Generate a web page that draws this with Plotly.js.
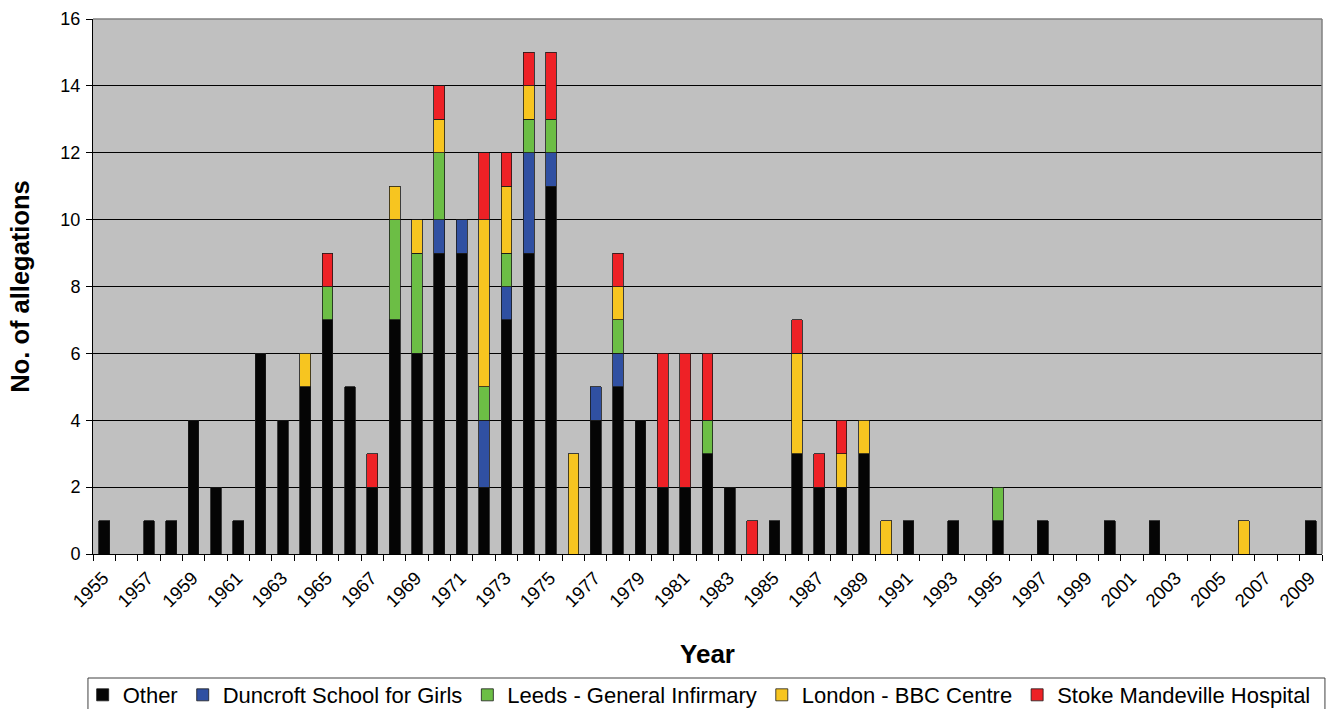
<!DOCTYPE html>
<html>
<head>
<meta charset="utf-8">
<script src="https://cdn.plot.ly/plotly-3.0.1.min.js"></script>
<style>
html,body{margin:0;padding:0;background:#ffffff;}
#chart{width:1329px;height:709px;}
</style>
</head>
<body>
<div id="chart"></div>
<script>
// Categories (years)
const years = [1955,1956,1957,1958,1959,1960,1961,1962,1963,1964,
               1965,1966,1967,1968,1969,1970,1971,1972,1973,1974,
               1975,1976,1977,1978,1979,1980,1981,1982,1983,1984,
               1985,1986,1987,1988,1989,1990,1991,1992,1993,1994,
               1995,1996,1997,1998,1999,2000,2001,2002,2003,2004,
               2005,2006,2007,2008,2009];

// Series values (allegations per year)
const other    = [1,0,1,1,4,2,1,6,4,5, 7,5,2,7,6,9,9,2,7,9, 11,0,4,5,4,2,2,3,2,0, 1,3,2,2,3,0,1,0,1,0, 1,0,1,0,0,1,0,1,0,0, 0,0,0,0,1];
const duncroft = [0,0,0,0,0,0,0,0,0,0, 0,0,0,0,0,1,1,2,1,3, 1,0,1,1,0,0,0,0,0,0, 0,0,0,0,0,0,0,0,0,0, 0,0,0,0,0,0,0,0,0,0, 0,0,0,0,0];
const leeds    = [0,0,0,0,0,0,0,0,0,0, 1,0,0,3,3,2,0,1,1,1, 1,0,0,1,0,0,0,1,0,0, 0,0,0,0,0,0,0,0,0,0, 1,0,0,0,0,0,0,0,0,0, 0,0,0,0,0];
const london   = [0,0,0,0,0,0,0,0,0,1, 0,0,0,1,1,1,0,5,2,1, 0,3,0,1,0,0,0,0,0,0, 0,3,0,1,1,1,0,0,0,0, 0,0,0,0,0,0,0,0,0,0, 0,1,0,0,0];
const stoke    = [0,0,0,0,0,0,0,0,0,0, 1,0,1,0,0,1,0,2,1,1, 2,0,0,1,0,4,4,2,0,1, 0,1,1,1,0,0,0,0,0,0, 0,0,0,0,0,0,0,0,0,0, 0,0,0,0,0];

// Tick labels (every other year)
const tickYears = [1955,1957,1959,1961,1963,1965,1967,1969,1971,1973,1975,1977,1979,1981,
                   1983,1985,1987,1989,1991,1993,1995,1997,1999,2001,2003,2005,2007,2009];
const tickLabels = tickYears.map(String);

const seriesNames  = ['Other','Duncroft School for Girls','Leeds - General Infirmary','London - BBC Centre','Stoke Mandeville Hospital'];
const seriesValues = [other, duncroft, leeds, london, stoke];
const seriesColors = ['#050505','#3050A2','#6CBE45','#F7C520','#EE2126'];

const FONT = 'Liberation Sans, Arial, Helvetica, sans-serif';

const traces = seriesNames.map((name, i) => ({
  type: 'bar',
  name: name,
  x: years,
  y: seriesValues[i].map(v => v === 0 ? null : v),
  marker: {color: seriesColors[i], line: {color: '#1a1a1a', width: 0.8}},
  hoverinfo: 'x+y+name'
}));

const layout = {
  width: 1329, height: 709,
  margin: {l: 93, r: 7, t: 19, b: 155, autoexpand: false},
  paper_bgcolor: '#ffffff',
  plot_bgcolor: '#C0C0C0',
  barmode: 'stack',
  bargap: 0.52,
  font: {family: FONT, color: '#000000'},
  showlegend: true,
  legend: {
    orientation: 'h', traceorder: 'normal',
    x: -0.0084, xanchor: 'left',
    y: -0.2636, yanchor: 'middle',
    font: {family: FONT, size: 22, color: '#000'},
    bgcolor: 'rgba(0,0,0,0)', borderwidth: 0
  },
  xaxis: {
    type: 'linear',
    range: [1954.5, 2009.5],
    tickmode: 'array',
    tickvals: tickYears,
    ticktext: tickLabels,
    ticks: '',
    tickangle: -45,
    ticklabelstandoff: 5,
    ticklabelshift: -1,
    tickfont: {family: FONT, size: 18.5, color: '#000'},
    showgrid: false, zeroline: false,
    showline: true, linecolor: '#000', linewidth: 1,
    minor: {tickmode: 'linear', tick0: 1954.5, dtick: 1, ticks: 'outside', ticklen: 6, tickcolor: '#000', tickwidth: 1, showgrid: false},
    title: {text: 'Year', font: {family: FONT, size: 26, color: '#000', weight: 'bold'}, standoff: 34},
    fixedrange: true
  },
  yaxis: {
    range: [0, 16],
    tickmode: 'linear', tick0: 0, dtick: 2,
    ticks: 'outside', ticklen: 6, tickcolor: '#000', tickwidth: 1,
    ticklabelstandoff: 2,
    tickfont: {family: FONT, size: 18, color: '#000'},
    showgrid: true, gridcolor: '#000000', gridwidth: 1,
    zeroline: false,
    showline: true, linecolor: '#000', linewidth: 1,
    title: {text: 'No. of allegations', font: {family: FONT, size: 25.5, color: '#000', weight: 'bold'}, standoff: 23},
    fixedrange: true
  },
  shapes: [
    {type: 'line', xref: 'paper', yref: 'paper', x0: 0, x1: 1, y0: 1, y1: 1, line: {color: '#808080', width: 1.5}},
    {type: 'line', xref: 'paper', yref: 'paper', x0: 1, x1: 1, y0: 0, y1: 1, line: {color: '#808080', width: 1.5}},
    {type: 'rect', xref: 'paper', yref: 'paper', x0: -0.0041, x1: 1.0024, y0: -0.2318, y1: -0.2953,
     line: {color: '#404040', width: 1}, fillcolor: 'rgba(0,0,0,0)'}
  ]
};

Plotly.newPlot('chart', traces, layout, {displayModeBar: false, staticPlot: true});
</script>
</body>
</html>
